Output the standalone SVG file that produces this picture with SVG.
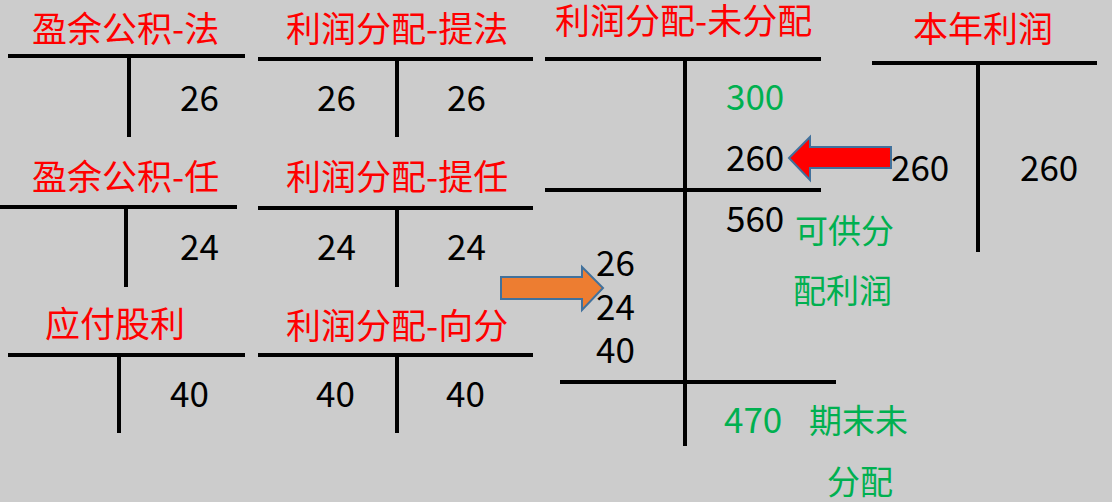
<svg xmlns="http://www.w3.org/2000/svg" width="1112" height="502" viewBox="0 0 1112 502">
<style>
.bg{fill:#CCCCCC}
.ln{stroke:#000;stroke-width:4;fill:none}
.t{font-family:"Noto Sans CJK SC","Noto Sans",sans-serif;font-size:35px;fill:#FF0000}
.n{font-family:"Noto Sans CJK SC","Noto Sans",sans-serif;font-size:35px;fill:#000}
.g{font-family:"Noto Sans CJK SC","Noto Sans",sans-serif;font-size:35px;fill:#00B050}
.gc{font-family:"Noto Sans CJK SC","Noto Sans",sans-serif;font-size:33px;fill:#00B050}
.arr{stroke:#41719C;stroke-width:2;stroke-linejoin:miter}
</style>
<rect class="bg" x="0" y="0" width="1112" height="502"/>
<g id="acct-surplus-statutory">
<text class="t" x="32" y="42">盈余公积-法</text>
<path class="ln" d="M8 56H245M129 56V137"/>
<text class="n" x="180" y="111">26</text>
</g>
<g id="acct-dist-statutory">
<text class="t" x="286" y="42">利润分配-提法</text>
<path class="ln" d="M258 59H533M397 59V137"/>
<text class="n" x="317" y="111">26</text>
<text class="n" x="447" y="111">26</text>
</g>
<g id="acct-surplus-discretionary">
<text class="t" x="32" y="190">盈余公积-任</text>
<path class="ln" d="M0 207H237M126 207V287"/>
<text class="n" x="180" y="260">24</text>
</g>
<g id="acct-dist-discretionary">
<text class="t" x="286" y="190">利润分配-提任</text>
<path class="ln" d="M258 208H533M397 208V287"/>
<text class="n" x="317" y="260">24</text>
<text class="n" x="447" y="260">24</text>
</g>
<g id="acct-dividends-payable">
<text class="t" x="45" y="337">应付股利</text>
<path class="ln" d="M8 355H245M119 355V433"/>
<text class="n" x="170" y="407">40</text>
</g>
<g id="acct-dist-dividends">
<text class="t" x="286" y="339">利润分配-向分</text>
<path class="ln" d="M258 355H533M397 355V433"/>
<text class="n" x="316" y="407">40</text>
<text class="n" x="446" y="407">40</text>
</g>
<g id="acct-undistributed">
<text class="t" x="555" y="34">利润分配-未分配</text>
<path class="ln" d="M545 59H821M685 59V446M545 190H821M560 382H836"/>
<text class="g" x="726" y="110">300</text>
<text class="n" x="726" y="171">260</text>
<text class="n" x="726" y="232">560</text>
<text class="gc" x="795" y="243">可供分</text>
<text class="gc" x="793" y="303">配利润</text>
<text class="n" x="596" y="276">26</text>
<text class="n" x="596" y="320">24</text>
<text class="n" x="596" y="363">40</text>
<text class="g" x="724" y="433">470</text>
<text class="gc" x="809" y="433">期末未</text>
<text class="gc" x="827" y="494">分配</text>
</g>
<g id="acct-current-profit">
<text class="t" x="913" y="42">本年利润</text>
<path class="ln" d="M872 63H1097M978 63V252"/>
<text class="n" x="891" y="181">260</text>
<text class="n" x="1020" y="181">260</text>
</g>
<g id="connectors">
<polygon class="arr" fill="#FF0000" points="789,158 810,137 810,147 891,147 891,168 810,168 810,180"/>
<polygon class="arr" fill="#ED7D31" points="501,277 582,277 582,267 603,288 582,310 582,299 501,299"/>
</g>
</svg>
